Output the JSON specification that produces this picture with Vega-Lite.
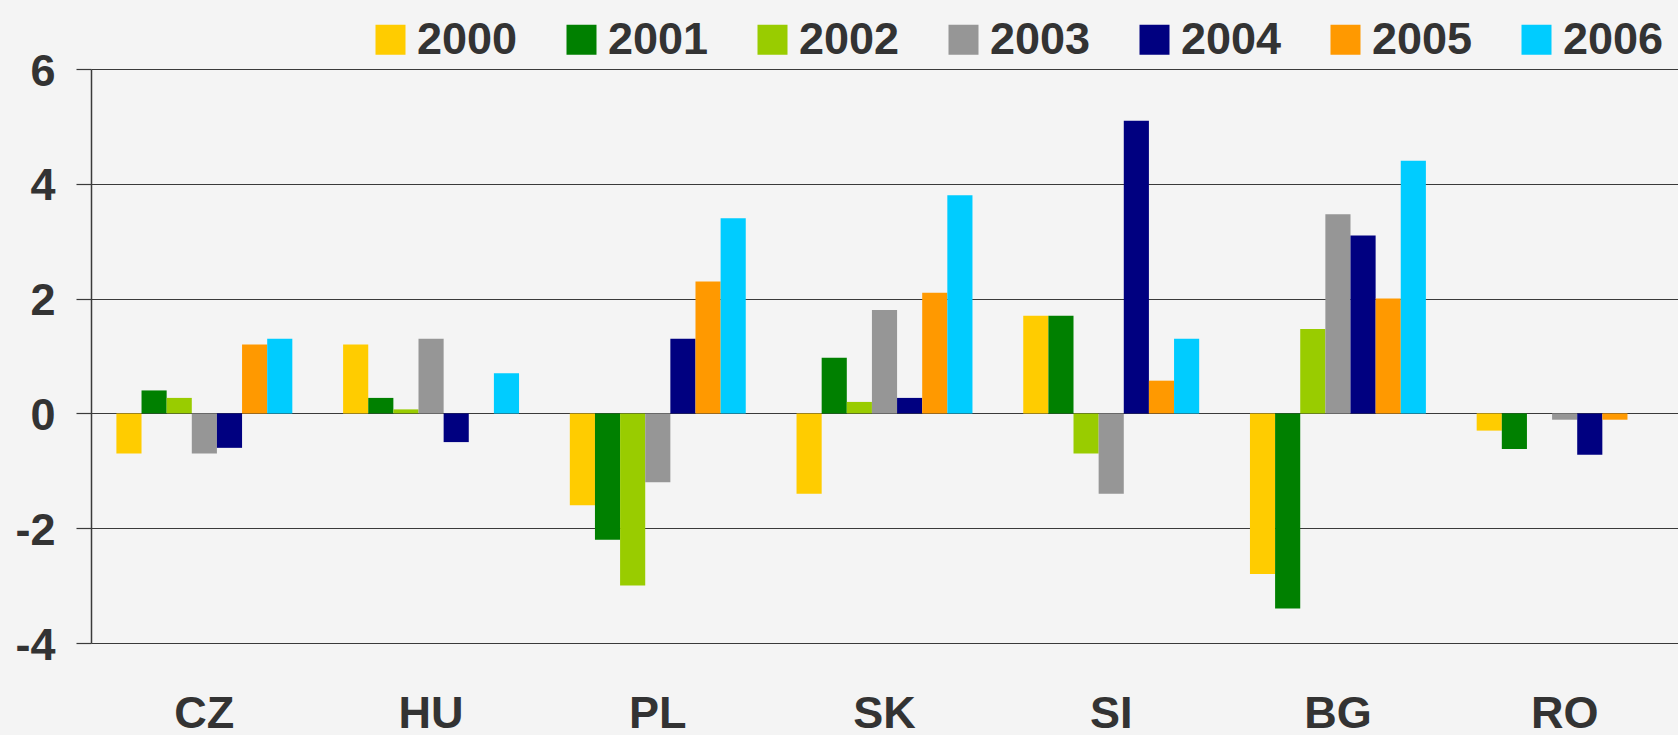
{
  "$schema": "https://vega.github.io/schema/vega-lite/v6.json",
  "autosize": {"type": "none"},
  "width": 1587,
  "height": 574,
  "padding": {"left": 91, "top": 69, "right": 0, "bottom": 92},
  "background": "#f4f4f4",
  "config": {
    "view": {"stroke": null},
    "font": "Liberation Sans",
    "axis": {"labelFont": "Liberation Sans", "labelFontWeight": "bold", "labelColor": "#333333", "labelFontSize": 45}
  },
  "data": {
    "values": [
      {"country": "CZ", "year": "2000", "value": -0.7},
      {"country": "CZ", "year": "2001", "value": 0.4},
      {"country": "CZ", "year": "2002", "value": 0.27},
      {"country": "CZ", "year": "2003", "value": -0.7},
      {"country": "CZ", "year": "2004", "value": -0.6},
      {"country": "CZ", "year": "2005", "value": 1.2},
      {"country": "CZ", "year": "2006", "value": 1.3},
      {"country": "HU", "year": "2000", "value": 1.2},
      {"country": "HU", "year": "2001", "value": 0.27},
      {"country": "HU", "year": "2002", "value": 0.07},
      {"country": "HU", "year": "2003", "value": 1.3},
      {"country": "HU", "year": "2004", "value": -0.5},
      {"country": "HU", "year": "2005", "value": 0},
      {"country": "HU", "year": "2006", "value": 0.7},
      {"country": "PL", "year": "2000", "value": -1.6},
      {"country": "PL", "year": "2001", "value": -2.2},
      {"country": "PL", "year": "2002", "value": -3.0},
      {"country": "PL", "year": "2003", "value": -1.2},
      {"country": "PL", "year": "2004", "value": 1.3},
      {"country": "PL", "year": "2005", "value": 2.3},
      {"country": "PL", "year": "2006", "value": 3.4},
      {"country": "SK", "year": "2000", "value": -1.4},
      {"country": "SK", "year": "2001", "value": 0.97},
      {"country": "SK", "year": "2002", "value": 0.2},
      {"country": "SK", "year": "2003", "value": 1.8},
      {"country": "SK", "year": "2004", "value": 0.27},
      {"country": "SK", "year": "2005", "value": 2.1},
      {"country": "SK", "year": "2006", "value": 3.8},
      {"country": "SI", "year": "2000", "value": 1.7},
      {"country": "SI", "year": "2001", "value": 1.7},
      {"country": "SI", "year": "2002", "value": -0.7},
      {"country": "SI", "year": "2003", "value": -1.4},
      {"country": "SI", "year": "2004", "value": 5.1},
      {"country": "SI", "year": "2005", "value": 0.57},
      {"country": "SI", "year": "2006", "value": 1.3},
      {"country": "BG", "year": "2000", "value": -2.8},
      {"country": "BG", "year": "2001", "value": -3.4},
      {"country": "BG", "year": "2002", "value": 1.47},
      {"country": "BG", "year": "2003", "value": 3.47},
      {"country": "BG", "year": "2004", "value": 3.1},
      {"country": "BG", "year": "2005", "value": 2.0},
      {"country": "BG", "year": "2006", "value": 4.4},
      {"country": "RO", "year": "2000", "value": -0.3},
      {"country": "RO", "year": "2001", "value": -0.62},
      {"country": "RO", "year": "2002", "value": 0},
      {"country": "RO", "year": "2003", "value": -0.11},
      {"country": "RO", "year": "2004", "value": -0.72},
      {"country": "RO", "year": "2005", "value": -0.11},
      {"country": "RO", "year": "2006", "value": 0}
    ]
  },
  "mark": {"type": "bar"},
  "encoding": {
    "x": {
      "field": "country", "type": "nominal", "sort": null,
      "scale": {"paddingInner": 0.224, "paddingOuter": 0.112},
      "axis": {"title": null, "domain": false, "ticks": false, "labelAngle": 0, "labelPadding": 48, "grid": false}
    },
    "xOffset": {"field": "year", "type": "nominal", "scale": {"paddingInner": 0, "paddingOuter": 0}},
    "y": {
      "field": "value", "type": "quantitative",
      "scale": {"domain": [-4, 6], "nice": false, "zero": true},
      "axis": {
        "title": null, "values": [-4, -2, 0, 2, 4, 6],
        "labelExpr": "'' + datum.value",
        "grid": true, "gridColor": "#3a3a3a", "gridWidth": 1.2, "gridOpacity": 1,
        "domain": true, "domainColor": "#3a3a3a", "domainWidth": 1.5,
        "ticks": true, "tickSize": 15, "tickColor": "#3a3a3a", "tickWidth": 1.2,
        "labelPadding": 21, "labelOffset": 2
      }
    },
    "color": {
      "field": "year", "type": "nominal",
      "scale": {
        "domain": ["2000", "2001", "2002", "2003", "2004", "2005", "2006"],
        "range": ["#ffcc00", "#008000", "#99cc00", "#969696", "#000080", "#ff9900", "#00ccff"]
      },
      "legend": {
        "title": null, "orient": "none", "direction": "horizontal",
        "legendX": 277, "legendY": -52, "padding": 0,
        "symbolType": "square", "symbolSize": 900, "symbolStrokeWidth": 0, "symbolOpacity": 1,
        "labelFont": "Liberation Sans", "labelFontWeight": "bold", "labelFontSize": 45, "labelColor": "#333333",
        "labelOffset": 4, "columnPadding": 41, "labelLimit": 300
      }
    }
  }
}
